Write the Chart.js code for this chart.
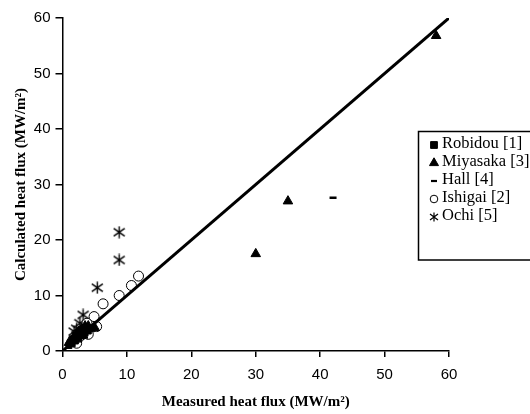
<!DOCTYPE html>
<html>
<head>
<meta charset="utf-8">
<script src="https://cdn.jsdelivr.net/npm/chart.js@4/dist/chart.umd.min.js"></script>
<style>
  html, body { margin: 0; padding: 0; background: #fff; }
  #wrap { width: 530px; height: 414px; position: relative; }
</style>
</head>
<body>
<div id="wrap"><canvas id="c" width="530" height="414"></canvas></div>
<script>
// ---- Data ----
const seriesLabels = ["Robidou [1]", "Miyasaka [3]", "Hall [4]", "Ishigai [2]", "Ochi [5]"];

const robidou = [
  [1.0, 1.0], [1.2, 1.5], [1.5, 1.3], [1.8, 2.0], [2.0, 1.8], [2.2, 2.5],
  [2.5, 2.2], [2.8, 3.0], [3.0, 2.7], [3.2, 3.5], [3.5, 3.2], [1.5, 2.2],
  [2.0, 2.8], [2.5, 3.3], [3.0, 3.8], [4.0, 3.6], [4.5, 4.0]
];
const miyasaka = [
  [1.0, 1.5], [1.5, 2.0], [2.0, 2.5], [2.5, 3.5], [3.0, 4.0], [3.5, 4.5],
  [4.0, 4.5], [5.0, 4.2], [2.2, 3.0], [3.2, 2.8],
  [30.0, 17.5], [35.0, 27.0], [58.0, 56.8]
];
const hall = [
  [42.0, 27.6]
];
const ishigai = [
  [11.8, 13.5], [10.7, 11.8], [8.8, 10.0], [6.3, 8.5], [4.9, 6.2], [5.3, 4.4],
  [3.2, 3.5], [2.2, 1.4], [3.5, 4.3], [4.0, 3.0], [2.6, 2.5], [3.8, 5.0]
];
const ochi = [
  [8.8, 21.4], [8.8, 16.4], [5.4, 11.4], [3.2, 6.5], [2.7, 5.0], [2.2, 4.0], [1.8, 3.5]
];
const parityLine = [[0, 0], [60, 60]];

const xTicks = [0, 10, 20, 30, 40, 50, 60];
const yTicks = [0, 10, 20, 30, 40, 50, 60];
const xTitle = "Measured heat flux (MW/m\u00B2)";
const yTitle = "Calculated heat flux (MW/m\u00B2)";

// ---- helpers ----
const toPts = arr => arr.map(p => ({ x: p[0], y: p[1] }));

// six-armed asterisk marker (X with a vertical bar)
function makeAsterisk(size, lw) {
  const c = document.createElement('canvas');
  c.width = size; c.height = size;
  const g = c.getContext('2d');
  g.strokeStyle = '#000';
  g.lineWidth = lw;
  g.lineCap = 'butt';
  const m = size / 2;
  g.beginPath();
  g.moveTo(m, 0.5); g.lineTo(m, size - 0.5);
  g.moveTo(1, size * 0.2); g.lineTo(size - 1, size * 0.8);
  g.moveTo(size - 1, size * 0.2); g.lineTo(1, size * 0.8);
  g.stroke();
  return c;
}
const asteriskBig = makeAsterisk(13, 1.4);
const asteriskSmall = makeAsterisk(10, 1.2);

const styles = [
  { pointStyle: 'rect', radius: 4.2, bg: '#000', border: '#000', bw: 1 },
  { pointStyle: 'triangle', radius: 5.5, bg: '#000', border: '#000', bw: 1 },
  { pointStyle: 'line', radius: 3.5, bg: '#000', border: '#000', bw: 2.5 },
  { pointStyle: 'circle', radius: 5, bg: '#fff', border: '#000', bw: 1 },
  { pointStyle: asteriskBig, radius: 6, bg: '#000', border: '#000', bw: 1.2 }
];
const seriesData = [robidou, miyasaka, hall, ishigai, ochi];

const datasets = seriesData.map((d, i) => ({
  type: 'scatter',
  label: seriesLabels[i],
  data: toPts(d),
  pointStyle: styles[i].pointStyle,
  pointRadius: styles[i].radius,
  pointHoverRadius: styles[i].radius,
  backgroundColor: styles[i].bg,
  borderColor: styles[i].border,
  pointBorderWidth: styles[i].bw,
  borderWidth: styles[i].bw,
  order: 1
}));
datasets.push({
  type: 'line',
  label: 'parity',
  data: toPts(parityLine),
  borderColor: '#000',
  borderWidth: 3,
  pointRadius: 0,
  fill: false,
  order: 0
});

// custom legend drawn in the canvas (boxed, inside the plot area at right)
const legendMarkers = [
  { pointStyle: 'rect', radius: 4.8, borderWidth: 1 },
  { pointStyle: 'triangle', radius: 5.2, borderWidth: 1 },
  { pointStyle: 'line', radius: 3, borderWidth: 2.2 },
  { pointStyle: 'circle', radius: 3.8, borderWidth: 1 },
  { pointStyle: asteriskSmall, radius: 5, borderWidth: 1 }
];
const boxLegend = {
  id: 'boxLegend',
  afterDraw(chart) {
    const ctx = chart.ctx;
    const x0 = 418.5, y0 = 131.5, w = 130, h = 128.5;
    ctx.save();
    ctx.fillStyle = '#fff';
    ctx.fillRect(x0, y0, w, h);
    ctx.strokeStyle = '#000';
    ctx.lineWidth = 1.5;
    ctx.strokeRect(x0, y0, w, h);
    ctx.font = '16.5px "Liberation Serif", "Times New Roman", serif';
    ctx.textBaseline = 'middle';
    const rowY = [144, 162, 180, 198, 216];
    const mx = 434, tx = 442;
    seriesLabels.forEach((lab, i) => {
      const y = rowY[i];
      const s = styles[i];
      const opts = Object.assign({ rotation: 0 }, legendMarkers[i]);
      ctx.fillStyle = s.bg;
      ctx.strokeStyle = s.border;
      ctx.lineWidth = opts.borderWidth;
      Chart.helpers.drawPoint(ctx, opts, mx, y + 1);
      ctx.fillStyle = '#000';
      ctx.fillText(lab, tx, y);
    });
    ctx.restore();
  }
};

const axisFont = { family: '"Liberation Sans", Arial, sans-serif', size: 15 };
const titleFont = { family: '"Liberation Serif", "Times New Roman", serif', size: 15, weight: 'bold' };

new Chart(document.getElementById('c'), {
  data: { datasets },
  options: {
    responsive: false,
    animation: false,
    events: [],
    layout: { padding: { top: 18, right: 81, left: 0, bottom: 0 } },
    plugins: {
      legend: { display: false },
      tooltip: { enabled: false }
    },
    scales: {
      x: {
        type: 'linear',
        min: 0, max: 60,
        afterBuildTicks: sc => { sc.ticks = xTicks.map(v => ({ value: v })); },
        afterFit: sc => { sc.height = 63; },
        grid: { drawOnChartArea: false, drawTicks: true, tickLength: 6, color: '#000', lineWidth: 1.5 },
        border: { display: true, color: '#000', width: 1.5 },
        ticks: { color: '#000', font: axisFont, padding: 9, maxRotation: 0 },
        title: { display: true, text: xTitle, color: '#000', font: titleFont, padding: { top: 0, bottom: 3 } }
      },
      y: {
        type: 'linear',
        min: 0, max: 60,
        afterBuildTicks: sc => { sc.ticks = yTicks.map(v => ({ value: v })); },
        afterFit: sc => { sc.width = 62.5; },
        grid: { drawOnChartArea: false, drawTicks: true, tickLength: 7, color: '#000', lineWidth: 1.5 },
        border: { display: true, color: '#000', width: 1.5 },
        ticks: { color: '#000', font: axisFont, padding: 5 },
        title: { display: true, text: yTitle, color: '#000', font: titleFont, padding: { top: 12, bottom: 0 } }
      }
    }
  },
  plugins: [boxLegend]
});
</script>
</body>
</html>
